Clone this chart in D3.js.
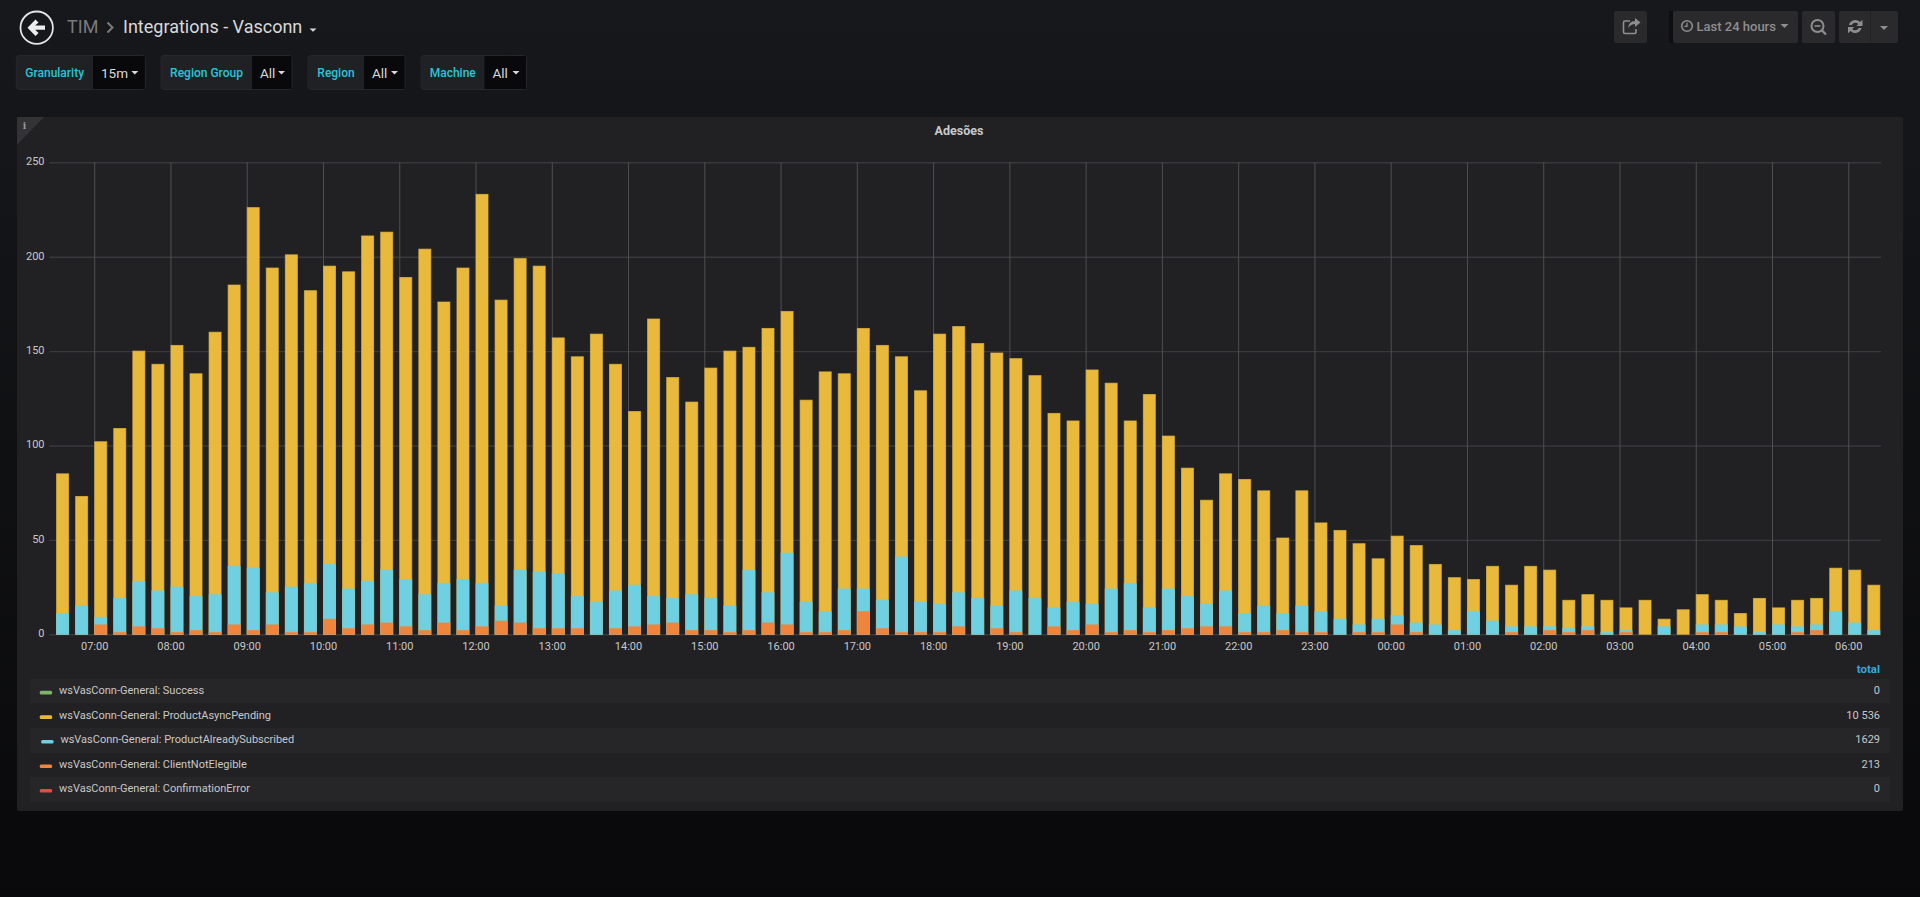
<!DOCTYPE html>
<html>
<head>
<meta charset="utf-8">
<script src="https://cdn.jsdelivr.net/npm/d3@7"></script>
<style>
  html, body { margin: 0; padding: 0; background: #0b0b0d; overflow: hidden; }
  text { font-family: Roboto, sans-serif; }
</style>
</head>
<body>
<div id="chart"></div>
<script>
// values, one per 15 minute bucket starting 06:30
const pending = [
  85,73,102,109,150,143,153,138,160,185,226,194,201,182,195,192,211,213,189,204,176,194,233,177,
  199,195,157,147,159,143,118,167,136,123,141,150,152,162,171,124,139,138,162,153,147,129,159,163,
  154,149,146,137,117,113,140,133,113,127,105,88,71,85,82,76,51,76,59,55,48,40,52,47,
  37,30,29,36,26,36,34,18,21,18,14,18,8,13,21,18,11,19,14,18,19,35,34,26];
const subscribed = [
  11,15,9,19,28,23,25,20,21,36,35,22,25,27,37,24,28,34,29,21,27,29,27,15,
  34,33,32,20,17,23,26,20,19,21,19,15,34,22,43,17,12,24,24,18,41,17,16,22,
  19,15,23,19,14,17,16,24,27,14,24,20,16,23,11,15,11,15,12,8,5,8,10,6,
  5,2,12,7,4,4,4,3,4,1,2,0,4,0,5,5,4,1,5,4,5,12,6,2];
const notEligible = [
  0,0,5,1,4,3,1,2,1,5,2,5,1,1,8,3,5,6,4,2,6,2,4,7,
  6,3,3,3,0,3,4,5,6,2,2,1,2,6,5,1,1,2,12,3,1,1,1,4,
  0,3,1,0,4,2,5,1,2,1,2,3,4,4,1,1,2,1,1,0,1,1,5,1,
  0,0,0,0,1,0,2,1,2,0,1,0,0,0,1,1,0,0,0,1,2,0,0,0];
const success = pending.map(() => 0);
const confirmationError = pending.map(() => 0);

const legendNames = ["wsVasConn-General: Success", "wsVasConn-General: ProductAsyncPending",
  "wsVasConn-General: ProductAlreadySubscribed", "wsVasConn-General: ClientNotElegible",
  "wsVasConn-General: ConfirmationError"];
const legendColors = ["#7EB26D", "#EAB839", "#6ED0E0", "#EF843C", "#E24D42"];
const legendValues = [success, pending, subscribed, notEligible, confirmationError];
const yTicks = [0, 50, 100, 150, 200, 250];
const filterLabels = ["Granularity", "Region Group", "Region", "Machine"];
const filterValues = ["15m", "All", "All", "All"];

const W = 1920, H = 897;
const svg = d3.select("#chart").append("svg").attr("width", W).attr("height", H).style("display", "block");

const grad = svg.append("defs").append("linearGradient").attr("id", "bg").attr("x1", 0).attr("x2", 0).attr("y1", 0).attr("y2", 1);
grad.append("stop").attr("offset", "0%").attr("stop-color", "#17181b");
grad.append("stop").attr("offset", "100%").attr("stop-color", "#09090b");
svg.append("rect").attr("width", W).attr("height", H).attr("fill", "url(#bg)");

// header
svg.append("circle").attr("cx", 36.7).attr("cy", 27.7).attr("r", 16.2)
  .attr("fill", "none").attr("stroke", "#e4e4e4").attr("stroke-width", 1.8);
svg.append("path").attr("d", "M27.5 27.7 L35.5 19.5 L38.5 22.5 L35.2 25.6 L45 25.6 L45 29.8 L35.2 29.8 L38.5 33 L35.5 36 Z").attr("fill", "#ececec");
svg.append("text").attr("x", 67).attr("y", 33).attr("font-size", 18).attr("fill", "#7b7b7e").text("TIM");
svg.append("path").attr("d", "M107.5 22.5 L112.5 27.5 L107.5 32.5").attr("fill", "none").attr("stroke", "#7b7b7e").attr("stroke-width", 2);
svg.append("text").attr("x", 123).attr("y", 33).attr("font-size", 18).attr("fill", "#d8d9da").text("Integrations - Vasconn");
svg.append("path").attr("d", "M309.5 28.5 h7 l-3.5 3.2 Z").attr("fill", "#d8d9da");

// template variable boxes
const filterBoxes = [[16.3, 93, 145.3], [161, 252, 292], [308, 364, 405], [421, 484.5, 526.5]];
filterLabels.forEach((label, i) => {
  const [x0, x1, x2] = filterBoxes[i];
  svg.append("rect").attr("x", x0).attr("y", 55.5).attr("width", x2 - x0).attr("height", 34).attr("rx", 3)
    .attr("fill", "#1f2125").attr("stroke", "#25272b");
  svg.append("rect").attr("x", x1).attr("y", 56).attr("width", x2 - x1 - 0.5).attr("height", 33).attr("fill", "#09090b");
  svg.append("text").attr("x", (x0 + x1) / 2).attr("y", 77).attr("text-anchor", "middle")
    .attr("font-size", 12).attr("font-weight", 500).attr("fill", "#29c5d9").text(label);
  svg.append("text").attr("x", x1 + 8).attr("y", 78).attr("font-size", 13.5).attr("fill", "#d8d9da").text(filterValues[i]);
  svg.append("path").attr("d", `M${x2 - 14} 71 h7 l-3.5 3.6 Z`).attr("fill", "#d8d9da");
});

// top right buttons
const btn = (x, w) => svg.append("rect").attr("x", x).attr("y", 11).attr("width", w).attr("height", 32).attr("rx", 2).attr("fill", "#2a2a2d");
svg.append("rect").attr("x", 1669).attr("y", 11).attr("width", 5).attr("height", 32).attr("fill", "#0e0e10");
btn(1614, 33); btn(1673, 125); btn(1802, 33); btn(1839, 59);
svg.append("line").attr("x1", 1870.5).attr("x2", 1870.5).attr("y1", 11).attr("y2", 43).attr("stroke", "#222225");
const iconCol = "#8e8e8e";
svg.append("path").attr("d", "M1630 21 h-5 a1.5 1.5 0 0 0 -1.5 1.5 v9.5 a1.5 1.5 0 0 0 1.5 1.5 h9.5 a1.5 1.5 0 0 0 1.5 -1.5 v-3")
  .attr("fill", "none").attr("stroke", iconCol).attr("stroke-width", 1.6);
svg.append("path").attr("d", "M1628 28 q1 -7 7 -7 v-3 l5.5 4.5 l-5.5 4.5 v-3 q-4 0 -7 4 Z").attr("fill", iconCol);
svg.append("circle").attr("cx", 1687).attr("cy", 26).attr("r", 5.3).attr("fill", "none").attr("stroke", iconCol).attr("stroke-width", 1.6);
svg.append("path").attr("d", "M1687 22.8 v3.5 h-2.6").attr("fill", "none").attr("stroke", iconCol).attr("stroke-width", 1.3);
svg.append("text").attr("x", 1696.5).attr("y", 31).attr("font-size", 13).attr("font-weight", 500).attr("fill", iconCol).text("Last 24 hours");
svg.append("path").attr("d", "M1780.5 24 h8 l-4 4 Z").attr("fill", iconCol);
svg.append("circle").attr("cx", 1817.5).attr("cy", 26).attr("r", 6).attr("fill", "none").attr("stroke", iconCol).attr("stroke-width", 2);
svg.append("path").attr("d", "M1814.5 26 h6").attr("stroke", iconCol).attr("stroke-width", 1.6);
svg.append("path").attr("d", "M1822 30.5 L1826 34.5").attr("stroke", iconCol).attr("stroke-width", 2.4);
svg.append("path").attr("d", "M1849 25 a6.5 6.5 0 0 1 11 -3 l2.5 -2.2 v6.2 h-6.2 l2 -2 a4 4 0 0 0 -6.6 1 Z M1861.5 28 a6.5 6.5 0 0 1 -11 3 l-2.5 2.2 v-6.2 h6.2 l-2 2 a4 4 0 0 0 6.6 -1 Z").attr("fill", iconCol);
svg.append("path").attr("d", "M1880 26 h8 l-4 4 Z").attr("fill", iconCol);

// panel
svg.append("rect").attr("x", 17).attr("y", 117).attr("width", 1886).attr("height", 694).attr("rx", 2).attr("fill", "#212124");
svg.append("path").attr("d", "M17 117 H44 L17 145 Z").attr("fill", "#333336");
svg.append("text").attr("x", 24.5).attr("y", 129).attr("text-anchor", "middle")
  .style("font-family", "DejaVu Serif").attr("font-size", 9).attr("font-weight", 700).attr("fill", "#9a9a9a").text("i");
svg.append("text").attr("x", 959).attr("y", 135).attr("text-anchor", "middle").attr("font-size", 12.5)
  .attr("font-weight", 700).attr("fill", "#c8c9ca").text("Adesões");

// scales
const start = new Date(2019, 0, 1, 6, 30);
const times = pending.map((_, i) => d3.timeMinute.offset(start, i * 15));
const x = d3.scaleTime()
  .domain([new Date(2019, 0, 1, 6, 24, 50), new Date(2019, 0, 2, 6, 25, 45)])
  .range([49.5, 1881]);
const y = d3.scaleLinear().domain([0, 250]).range([634.3, 162.3]);
const barWidth = 13;

// axes + grid
const yAxis = svg.append("g").attr("transform", "translate(49.5,0)")
  .call(d3.axisLeft(y).tickValues(yTicks).tickSize(-(1881 - 49.5)).tickPadding(5));
const xAxis = svg.append("g").attr("transform", "translate(0,634.3)")
  .call(d3.axisBottom(x).ticks(d3.timeHour.every(1)).tickFormat(d3.timeFormat("%H:%M")).tickSize(-472).tickPadding(7.5));
[xAxis, yAxis].forEach(g => {
  g.select(".domain").remove();
  g.selectAll("text").attr("font-size", 11).attr("fill", "#c8c8c8").style("font-family", "Roboto");
});
yAxis.selectAll("text").attr("dy", "0.22em");
xAxis.selectAll("line").attr("stroke", "#4f4f52");
yAxis.selectAll("line").attr("stroke", "#39393c").attr("stroke-width", 1.4);

// bars are overlaid, not stacked: each series runs from 0 to its own value
const drawOrder = [pending, subscribed, notEligible, confirmationError, success];
const drawColors = ["#E8B93A", "#6ED0E0", "#EF843C", "#E24D42", "#7EB26D"];
drawOrder.forEach((series, s) => {
  svg.append("g").selectAll("rect")
    .data(series)
    .join("rect")
    .attr("x", (d, i) => x(times[i]) + 0.5)
    .attr("y", d => y(d))
    .attr("width", barWidth - 1)
    .attr("height", d => y(0) - y(d))
    .attr("fill", drawColors[s])
    .attr("stroke", drawColors[s])
    .attr("stroke-opacity", d => d === 0 ? 0.35 : 0.7);
});

// legend table
const rowTop = [679, 703.7, 728, 753, 777], rowH = [24.7, 24.3, 25, 24, 25];
const fmtTotal = v => v >= 10000 ? d3.format(",")(v).replace(",", " ") : String(v);
svg.append("text").attr("x", 1880).attr("y", 673).attr("text-anchor", "end").attr("font-size", 11.5)
  .attr("font-weight", 700).attr("fill", "#33a9dd").text("total");
legendNames.forEach((name, i) => {
  const mid = rowTop[i] + rowH[i] / 2;
  const shift = i === 2 ? 1.4 : 0;
  if (i % 2 === 0) {
    svg.append("rect").attr("x", 30).attr("y", rowTop[i]).attr("width", 1860).attr("height", rowH[i]).attr("fill", "#262628");
  }
  svg.append("rect").attr("x", 39.7 + shift).attr("y", mid - 0.5).attr("width", 12.5).attr("height", 3.6).attr("rx", 1.5).attr("fill", legendColors[i]);
  svg.append("text").attr("x", 59 + shift).attr("y", mid + 2.8).attr("font-size", 11).attr("fill", "#c8c8c8").text(name);
  svg.append("text").attr("x", 1880).attr("y", mid + 2.8).attr("text-anchor", "end").attr("font-size", 11)
    .attr("fill", "#c8c8c8").text(fmtTotal(d3.sum(legendValues[i])));
});
</script>
</body>
</html>
